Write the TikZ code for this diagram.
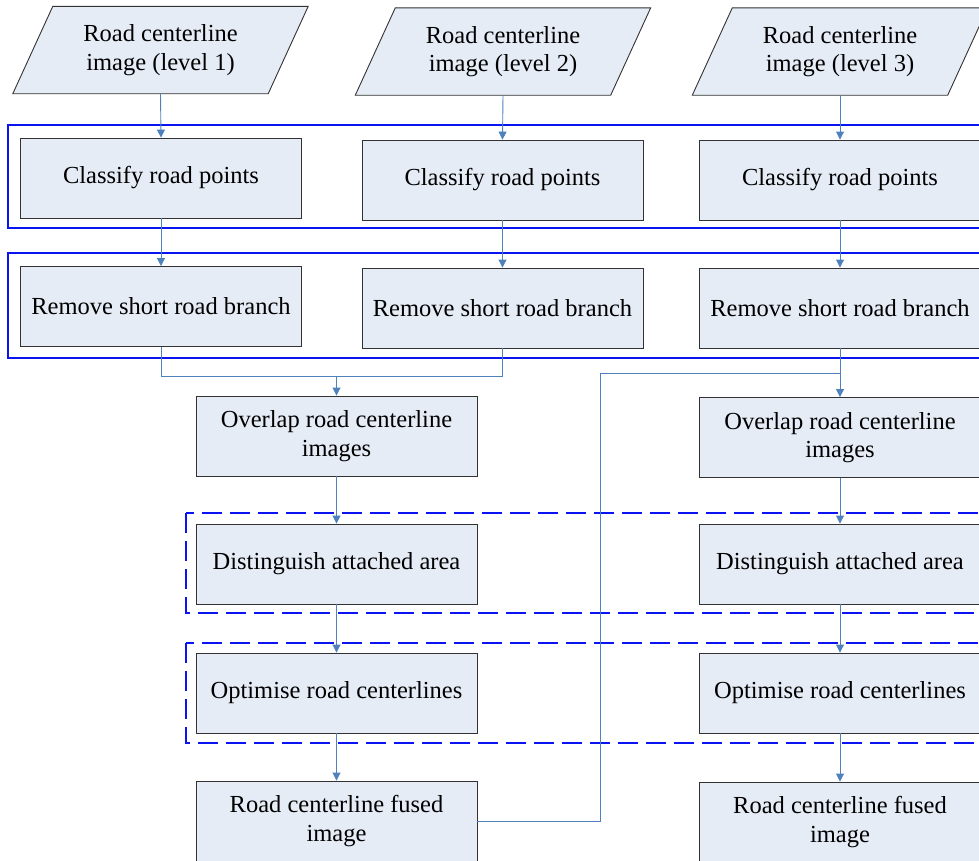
\documentclass[tikz,border=0pt]{standalone}
\usepackage{fontspec}
\setmainfont{Liberation Serif}
\usetikzlibrary{arrows.meta,calc}
\definecolor{frameblue}{RGB}{10,20,240}
\definecolor{connblue}{RGB}{79,129,189}
\definecolor{boxfill}{RGB}{230,236,246}
\definecolor{boxline}{RGB}{50,50,50}
\tikzset{
  stepbox/.style={draw=boxline, line width=0.9pt, fill=boxfill, minimum width=281pt, minimum height=80pt, inner sep=0pt, align=center, font=\fontsize{24.5}{28.5}\selectfont},
  iobox/.style={minimum width=255pt, minimum height=87pt, inner sep=0pt, align=center, font=\fontsize{24.5}{28.5}\selectfont},
  para/.style={draw=boxline, line width=0.9pt, fill=boxfill},
  link/.style={draw=connblue, line width=0.9pt},
  conn/.style={link, -{Triangle[width=8pt,length=8pt]}},
  solidframe/.style={draw=frameblue, line width=2pt},
  dashframe/.style={draw=frameblue, line width=2pt, dash pattern=on 20pt off 8pt},
}
\begin{document}
\begin{tikzpicture}[x=1pt,y=-1pt]
\path[use as bounding box] (0,0) rectangle (979,860);
\clip (0,0) rectangle (979,860);
% frames
\draw[solidframe] (8,125) rectangle (1000,228);
\draw[solidframe] (8,253) rectangle (1000,358);
\draw[dashframe] (186,513) rectangle (1000,613);
\draw[dashframe] (186,643) rectangle (1000,743);
% input parallelograms
\node[iobox] (p1) at (160.5,50) {};
\node[iobox] (p2) at (503,51.5) {};
\node[iobox] (p3) at (840,51.5) {};
\foreach \p in {p1,p2,p3}{
  \path[para] ($(\p.south west)+(-20,0)$) -- ($(\p.south east)+(-20,0)$) -- ($(\p.north east)+(20,0)$) -- ($(\p.north west)+(20,0)$) -- cycle;
}
\node[iobox] (p1t) at (p1) {Road centerline\\image (level 1)};
\node[iobox] (p2t) at (p2) {Road centerline\\image (level 2)};
\node[iobox] (p3t) at (p3) {Road centerline\\image (level 3)};
% classify
\node[stepbox] (c1) at (161,178) {Classify road points};
\node[stepbox] (c2) at (502.5,180) {Classify road points};
\node[stepbox] (c3) at (840,180) {Classify road points};
% remove
\node[stepbox] (r1) at (161,306.5) {Remove short road branch};
\node[stepbox] (r2) at (502.5,308) {Remove short road branch};
\node[stepbox] (r3) at (840,308) {Remove short road branch};
% overlap
\node[stepbox] (o1) at (336.5,436) {Overlap road centerline\\images};
\node[stepbox] (o2) at (840,437.5) {Overlap road centerline\\images};
% distinguish
\node[stepbox] (d1) at (336.5,564) {Distinguish attached area};
\node[stepbox] (d2) at (840,564) {Distinguish attached area};
% optimise
\node[stepbox] (op1) at (336.5,693) {Optimise road centerlines};
\node[stepbox] (op2) at (840,693) {Optimise road centerlines};
% fused
\node[stepbox] (f1) at (336.5,821) {Road centerline fused\\image};
\node[stepbox] (f2) at (840,822) {Road centerline fused\\image};
% connectors
\draw[conn] (p1.south) -- (c1.north);
\draw[conn] (p2.south) -- (c2.north);
\draw[conn] (p3.south) -- (c3.north);
\draw[conn] (c1.south) -- (r1.north);
\draw[conn] (c2.south) -- (r2.north);
\draw[conn] (c3.south) -- (r3.north);
\coordinate (mj) at (336.5,376);
\draw[link] (r1.south) |- (r2.south |- mj) -- (r2.south);
\draw[conn] (mj) -- (o1.north);
\draw[conn] (r3.south) -- (o2.north);
\coordinate (fj) at (600,373);
\draw[link] (f1.east) -| (fj) -- (fj -| r3.south);
\draw[conn] (o1.south) -- (d1.north);
\draw[conn] (d1.south) -- (op1.north);
\draw[conn] (op1.south) -- (f1.north);
\draw[conn] (o2.south) -- (d2.north);
\draw[conn] (d2.south) -- (op2.north);
\draw[conn] (op2.south) -- (f2.north);
\end{tikzpicture}
\end{document}
